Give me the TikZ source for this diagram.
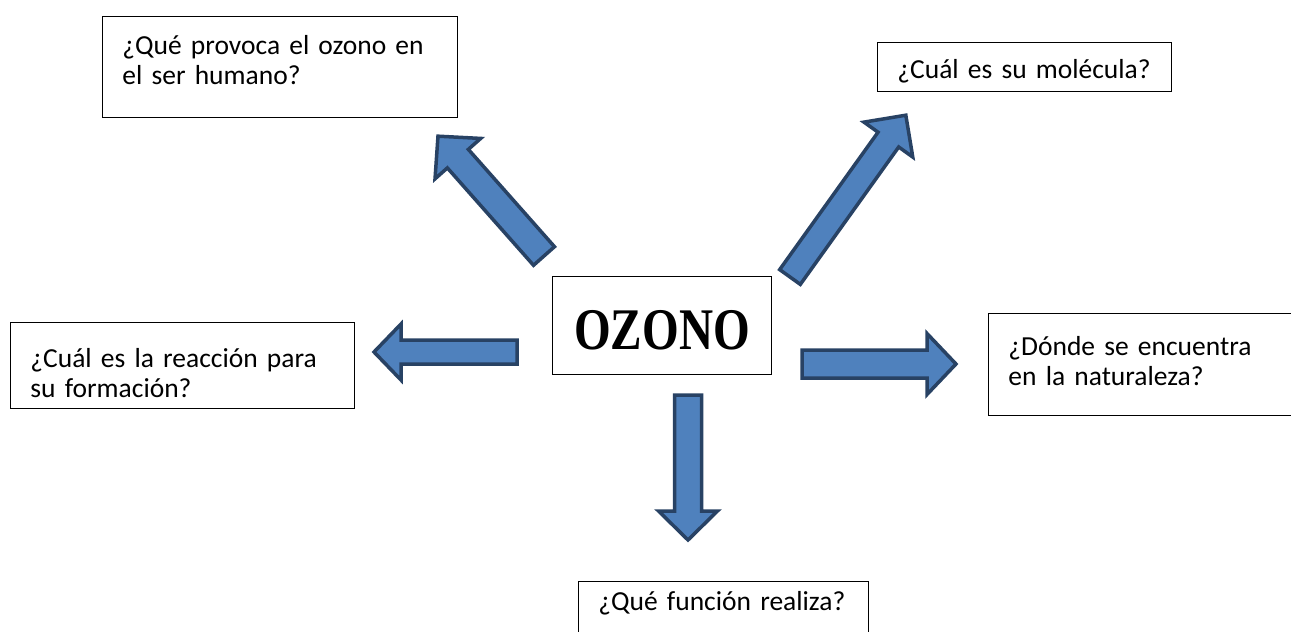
\documentclass[tikz,border=0pt]{standalone}
\usepackage{fontspec}
\setmainfont{Carlito}
\newfontfamily\titulo[FakeStretch=0.8]{Liberation Serif}

\definecolor{azul}{RGB}{79,129,189}
\definecolor{marino}{RGB}{40,66,100}

\tikzstyle{pregunta} = [draw, line width=0.9pt, anchor=north west, align=left, inner xsep=20pt, inner ysep=0pt, font=\fontsize{27.5}{30}\selectfont]
\tikzstyle{centro} = [draw, line width=0.9pt, anchor=north west, inner ysep=0pt, minimum width=219, font=\titulo\bfseries\fontsize{59}{59}\selectfont]
\tikzstyle{bloque} = [fill=azul, draw=marino, line width=3.5pt, line join=miter]

\begin{document}
\begin{tikzpicture}[x=1pt,y=-1pt]
	\useasboundingbox (0,0) rectangle (1291,632);

	\node[centro, text height=73, text depth=25] (ozono) at (552,276) {OZONO};

	\node[pregunta, text width=315, text height=38, text depth=63] (humano) at (102,16) {¿Qué provoca el ozono en\\el ser humano?};
	\node[pregunta, text width=254, text height=36, text depth=13] (molecula) at (877,42) {¿Cuál es su molécula?};
	\node[pregunta, text width=304, text height=45, text depth=41] (reaccion) at (10,322) {¿Cuál es la reacción para\\su formación?};
	\node[pregunta, text width=290, text height=42, text depth=60] (naturaleza) at (988,313) {¿Dónde se encuentra\\en la naturaleza?};
	\node[pregunta, text width=250, text height=29, text depth=50] (funcion) at (578,581) {¿Qué función realiza?};

	% flechas
	\draw[bloque, shift={(544,256)}, rotate=131.5] (0,14) -- (130,14) -- (130,30.5) -- (160,0) -- (130,-30.5) -- (130,-14) -- (0,-14) -- cycle;
	\draw[bloque, shift={(790,277)}, rotate=54.4] (0,12.7) -- (169,12.7) -- (169,30) -- (199,0) -- (169,-30) -- (169,-12.7) -- (0,-12.7) -- cycle;
	\draw[bloque, shift={(517,352)}, rotate=180] (0,12) -- (116,12) -- (116,28) -- (143,0) -- (116,-28) -- (116,-12) -- (0,-12) -- cycle;
	\draw[bloque, shift={(802,364)}, rotate=0] (0,14) -- (125,14) -- (125,30.5) -- (154,0) -- (125,-30.5) -- (125,-14) -- (0,-14) -- cycle;
	\draw[bloque, shift={(688,395)}, rotate=-90] (0,13.5) -- (116,13.5) -- (116,29.5) -- (145,0) -- (116,-29.5) -- (116,-13.5) -- (0,-13.5) -- cycle;
\end{tikzpicture}
\end{document}
